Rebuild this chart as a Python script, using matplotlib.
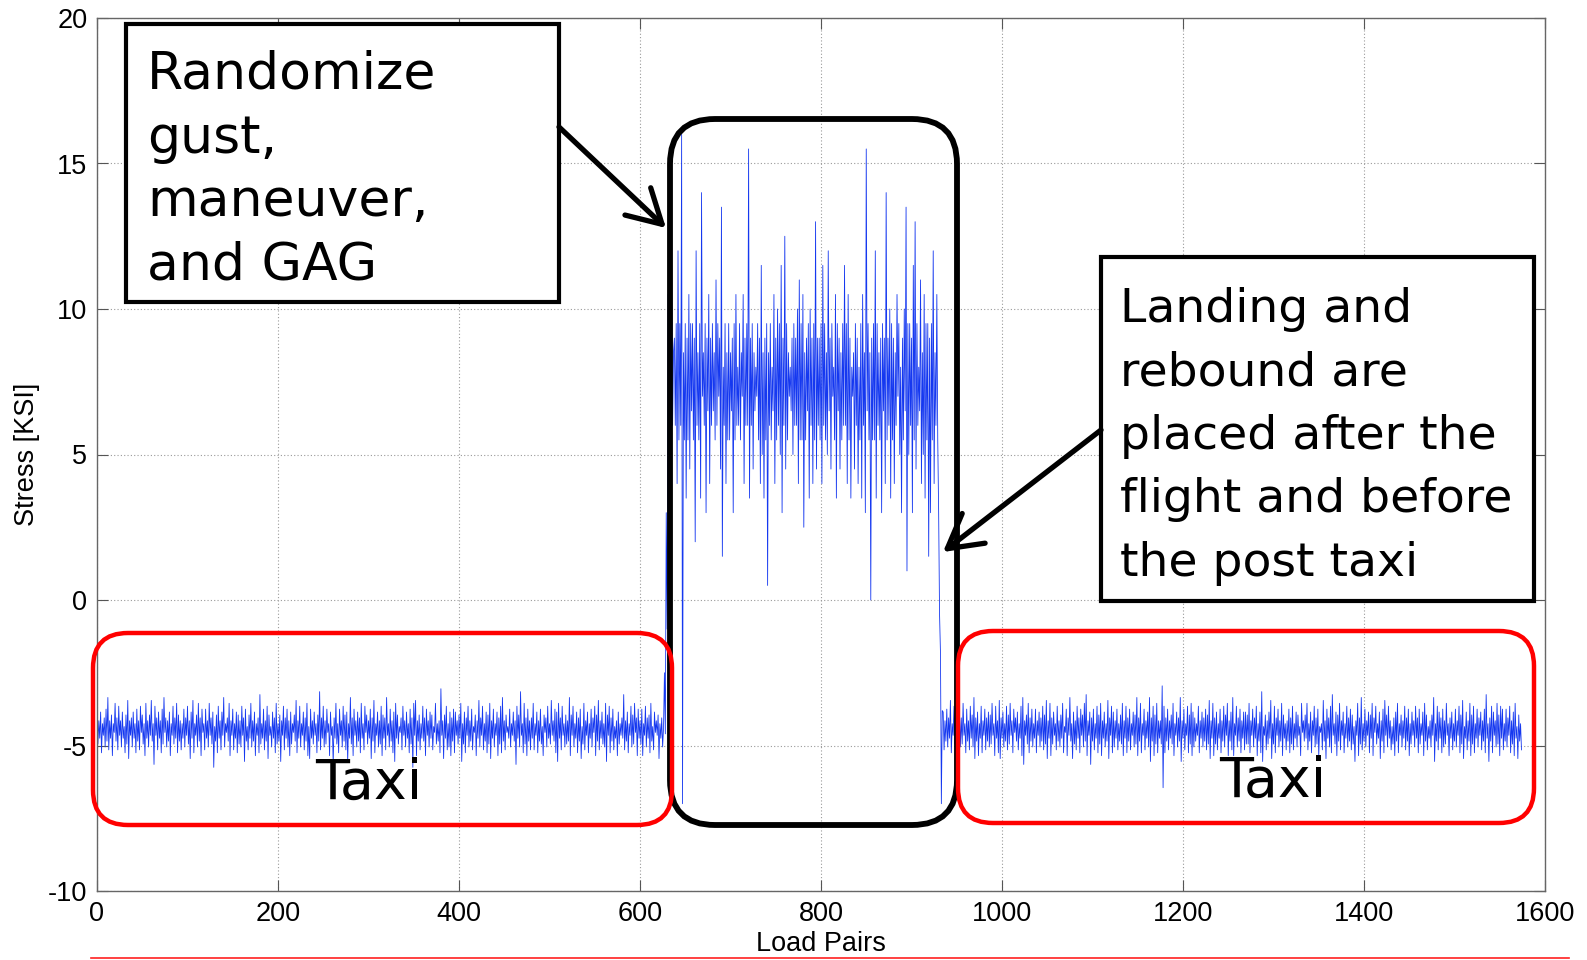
import numpy as np
import matplotlib

matplotlib.use("Agg")
import matplotlib.pyplot as plt
from matplotlib.lines import Line2D
from matplotlib.patches import FancyArrowPatch, FancyBboxPatch

plt.rcParams["axes.unicode_minus"] = False

# each character is a deviation from the segment mean, base 36, times the step.
TAXI_MEAN = -4.45
TAXI_STEP = 0.1
FLIGHT_MEAN = 7.5
FLIGHT_STEP = 0.5

PRE_UP = """
a36247b352 9483615a34 6273852935 a284637b43 6284953274
836a259472 7394615836 b249372653 8471593624 c273851649
2538473625 a382649173 625d483726 1492738562 b473649285
374a263854 b273695148 362749a352 8473651923 e358264763
5926483715 3a48265937 2648b35172 6385d29473 4926371548
2a37694825 3b58264719 3627485a36 2958471362 4c36285947
3728459163524
"""
PRE_DN = """
5382647391 4726385a26 3847159362 4c27385164 9253847362
5a38264917 3625d48372 6149273856 2b47364928 5374a26385
4b27369514 8362749a35 2847365192 c3582647b3 5926483715
3a48265937 2648b35172 6385d29473 4926371548 2a37694825
3b58264719 3627485a36 2958471362 4c36285947 3728459163
5248b37265 4926384a57 2836194735 6b28473952 3748265193
5926384712a36
"""
TAKEOFF = [-4.4, -2.5, -4.6, 3.0, -1.0, 10.5, 4.0, 9.5, 5.0, 11.5, 6.0, 8.5]

FLT_UP = """
3494h24364 43924d2436 342743c142 4234614263 4g34214382
3424163548 3a42134357 46234534b3 3484293416 4324846312
431462g423 4942343d35 43264135c4 438b417264 434926
"""
FLT_DN = """
3743t48462 4b34813927 324316c374 4294334173 3836214758
4e34274359 3641253374 4a42837463 4734526148 2643374816
37483924f4 4834927438 47315942d5 3946327584 c94734
"""
LANDING = [3.0, -0.5, -1.8, -7.0, -3.8]

POST_UP = """
6374a28536 4927385b46 2837465928 3a46285937 4628b35947
2736485a39 4628359174 b26384759c 3647285936 2a48637259
3847265b49 2736b48593 3f84735926 4b37285964 2836475a39
4627385936 b284736659 374826d153 6a28473952 3748265193
5926384712 a3748c2659 3628475139 4b27365948 2637a58314
6925384726 3847269513 5b28647392 4627385a16 3958274637
c248639587 2748369152
"""
POST_DN = """
7463825936 5284736a49 3827465293 8a36475281 4739c25846
3826475a39 5274638192 4a57382649 2c47385936 4a28637459
3847265948 2736b49583 5k84735926 4b37285964 2836475a39
5738462947 9264837558 263948b275 3a58264937 4857362914
3748265917 4a36825947 2836475b29 5746283915 3a48263759
4826374952 6385294736 2b47386529 3746285a37 4958362748
3b48265937 4628593a47
"""

X_TICKS = list(range(0, 1601, 200))
Y_TICKS = list(range(-10, 21, 5))

BOX1_LINES = ["Randomize", "gust,", "maneuver,", "and GAG"]
BOX2_LINES = ["Landing and", "rebound are", "placed after the",
              "flight and before", "the post taxi"]


def decode(up, dn, mean, step):
    up = "".join(up.split())
    dn = "".join(dn.split())
    n = min(len(up), len(dn))
    out = np.empty(2 * n)
    out[0::2] = mean + step * np.array([int(c, 36) for c in up[:n]])
    out[1::2] = mean - step * np.array([int(c, 36) for c in dn[:n]])
    return out


stress = np.concatenate([
    decode(PRE_UP, PRE_DN, TAXI_MEAN, TAXI_STEP),
    TAKEOFF,
    decode(FLT_UP, FLT_DN, FLIGHT_MEAN, FLIGHT_STEP),
    LANDING,
    decode(POST_UP, POST_DN, TAXI_MEAN, TAXI_STEP),
])
load_pairs = np.arange(len(stress))

W, H = 1587, 960
fig = plt.figure(figsize=(W / 100, H / 100), dpi=100)
ax = fig.add_axes([97 / W, 1 - 891 / H, (1545 - 97) / W, (891 - 18) / H])
ax.plot(load_pairs, stress, color="#1538f0", lw=0.6)
ax.set_xlim(0, 1600)
ax.set_ylim(-10, 20)
ax.set_xticks(X_TICKS)
ax.set_yticks(Y_TICKS)
ax.set_axisbelow(True)
ax.grid(True, ls=(0, (1, 2)), color="#9a9a9a", lw=0.8)
ax.tick_params(direction="in", length=8, top=True, right=True, labelsize=19.5,
               pad=7, color="#555555")
for lab in ax.get_xticklabels() + ax.get_yticklabels():
    lab.set_family("Liberation Sans")
for s in ax.spines.values():
    s.set_color("#666666")
    s.set_linewidth(1.0)
ax.set_xlabel("Load Pairs", fontsize=19.5, family="Liberation Sans", labelpad=3)
ax.set_ylabel("Stress [KSI]", fontsize=19.5, family="Liberation Sans", labelpad=6)

T = fig.dpi_scale_trans


def px(x, y):
    return x / 100, (H - y) / 100


def box(x0, y0, x1, y1, ec, lw, r=0.0, fill=False):
    style = f"round,pad=0,rounding_size={r}" if r else "square,pad=0"
    p = FancyBboxPatch(px(x0, y1), (x1 - x0) / 100, (y1 - y0) / 100,
                       boxstyle=style, transform=T, ec=ec, lw=lw,
                       fc="white", fill=fill, zorder=3)
    fig.add_artist(p)


def arrow(a, b):
    fig.add_artist(FancyArrowPatch(px(*a), px(*b), transform=T,
                                   arrowstyle="->,head_length=0.8,head_width=0.45",
                                   mutation_scale=30, lw=3.8, color="k",
                                   shrinkA=0, shrinkB=0, zorder=4))


box(670, 119, 957, 825, "k", 4.2, r=0.45)
box(93, 633, 672, 825, "#ff0000", 3.2, r=0.35)
box(958, 631, 1534, 823, "#ff0000", 3.2, r=0.35)
box(126, 24, 559, 302, "k", 3.0, fill=True)
box(1101, 257, 1534, 601, "k", 3.0, fill=True)

for i, s in enumerate(BOX1_LINES):
    fig.text(*px(147, 89 + 63.5 * i), s, transform=T, fontsize=37.5,
             family="DejaVu Sans", va="baseline", zorder=5)
for i, s in enumerate(BOX2_LINES):
    fig.text(*px(1120, 322 + 63.5 * i), s, transform=T, fontsize=34,
             family="DejaVu Sans", va="baseline", zorder=5)

fig.text(*px(369, 799), "Taxi", transform=T, fontsize=40, family="DejaVu Sans",
         ha="center", va="baseline", zorder=5)
fig.text(*px(1273, 797), "Taxi", transform=T, fontsize=40, family="DejaVu Sans",
         ha="center", va="baseline", zorder=5)

arrow((559, 127), (666, 228))
arrow((1101, 430), (943, 552))

fig.add_artist(Line2D([0.91, 15.69], [0.025, 0.025], transform=T,
                      color="#ff2020", lw=1.2))

fig.savefig("out.png", dpi=100)
